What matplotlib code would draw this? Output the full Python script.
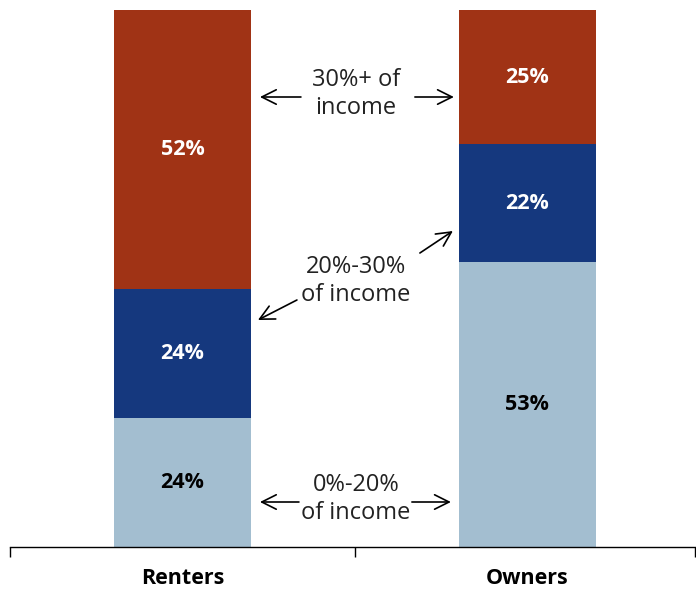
import matplotlib
matplotlib.use("Agg")
import matplotlib.pyplot as plt

categories = ["Renters", "Owners"]
series_names = ["0%-20%\nof income", "20%-30%\nof income", "30%+ of\nincome"]
low = [24, 53]
mid = [24, 22]
high = [52, 25]
colors = ["#A3BED0", "#15387E", "#A03315"]
label_colors = ["black", "white", "white"]

plt.rcParams['font.family'] = ['Open Sans', 'DejaVu Sans']

fig = plt.figure(figsize=(6.96, 5.89), dpi=100)
ax = fig.add_axes([10/696, 1-547/589, 685/696, 537/589])

x = list(range(len(categories)))
width = 0.397
bottom = [0, 0]
for vals, c, lc in zip([low, mid, high], colors, label_colors):
    ax.bar(x, vals, width, bottom=bottom, color=c, edgecolor='none')
    for xi, v, b in zip(x, vals, bottom):
        ax.text(xi, b + v/2, f"{v}%", ha='center', va='center', color=lc,
                fontsize=15.5, fontweight='bold')
    bottom = [b + v for b, v in zip(bottom, vals)]

ax.set_xlim(-0.5, 1.486)
ax.set_ylim(0, 100)
for s in ['top', 'right', 'left']:
    ax.spines[s].set_visible(False)
ax.spines['bottom'].set_linewidth(1.0)
ax.set_yticks([])
ax.set_xticks([-0.5, 0.5, 1.486])
ax.set_xticklabels([])
ax.tick_params(axis='x', direction='out', length=7, width=1.0)
for xi, cat in zip(x, categories):
    ax.text(xi, -5.9, cat, ha='center', va='center', fontsize=15.5,
            fontweight='bold', clip_on=False)

# annotations
mx = 0.503
def ypx(py):
    return (547 - py) / 5.37

ax.text(mx, ypx(94), series_names[2], ha='center', va='center',
        fontsize=17, linespacing=1.2, color='#222222')
ax.text(mx, ypx(281), series_names[1], ha='center', va='center',
        fontsize=17, linespacing=1.2, color='#222222')
ax.text(mx, ypx(499), series_names[0], ha='center', va='center',
        fontsize=17, linespacing=1.2, color='#222222')

def px2data(px, py):
    return ((px - 181.5) / 345.0, ypx(py))

arrows = [((300, 97), (259, 97)), ((414, 97), (453, 97)),
          ((419, 253), (452, 231)), ((296, 300), (257, 320)),
          ((298, 502), (259, 502)), ((411, 502), (450, 502))]
for (s, e) in arrows:
    ax.annotate('', xy=px2data(*e), xytext=px2data(*s),
                arrowprops=dict(arrowstyle='->', lw=1.2, color='black',
                                mutation_scale=26, shrinkA=0, shrinkB=0))

fig.savefig("out.png", dpi=100)
